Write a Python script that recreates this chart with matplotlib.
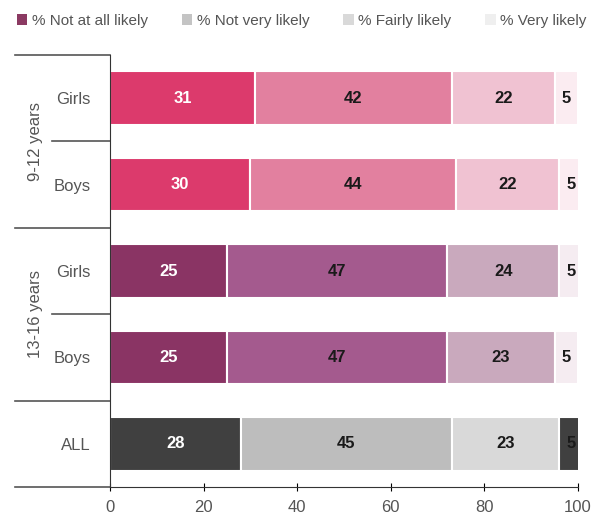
import matplotlib
matplotlib.use("Agg")
import matplotlib.pyplot as plt
from matplotlib.patches import Patch
from matplotlib.transforms import blended_transform_factory

plt.rcParams['font.family'] = ['Liberation Sans', 'DejaVu Sans']

rows = ["Girls", "Boys", "Girls", "Boys", "ALL"]
groups = ["9-12 years", "13-16 years"]
series = ["% Not at all likely", "% Not very likely", "% Fairly likely", "% Very likely"]
not_at_all = [31, 30, 25, 25, 28]
not_very = [42, 44, 47, 47, 45]
fairly = [22, 22, 24, 23, 23]
very = [5, 5, 5, 5, 5]

row_colors = [
    ['#dc3a6c', '#e2809f', '#f0c2d2', '#fbecf1'],
    ['#dc3a6c', '#e2809f', '#f0c2d2', '#fbecf1'],
    ['#8a3464', '#a45a8e', '#c9a9bd', '#f5ecf1'],
    ['#8a3464', '#a45a8e', '#c9a9bd', '#f5ecf1'],
    ['#404040', '#bdbdbd', '#d9d9d9', '#404040'],
]
legend_colors = ['#8b3a62', '#c4c4c4', '#d9d9d9', '#efefef']

fig = plt.figure(figsize=(5.98, 5.22), dpi=100)
ax = fig.add_axes([0.184, 0.067, 0.7826, 0.8276])

data = [not_at_all, not_very, fairly, very]
y = list(range(len(rows)))
left = [0] * len(rows)
for si, vals in enumerate(data):
    cols = [row_colors[r][si] for r in range(len(rows))]
    ax.barh(y, vals, left=left, height=0.62, color=cols, edgecolor='white', linewidth=1.5)
    for r, v in enumerate(vals):
        tc = 'white' if si == 0 else '#1a1a1a'
        ax.text(left[r] + v / 2, r, str(v), ha='center', va='center', fontsize=12,
                fontweight='bold', color=tc)
    left = [l + v for l, v in zip(left, vals)]

ax.set_xlim(0, 100)
ax.set_ylim(4.5, -0.5)
ax.set_xticks([0, 20, 40, 60, 80, 100])
ax.tick_params(axis='x', direction='inout', length=6, labelsize=12, labelcolor='#555555', pad=6)
ax.set_yticks(y)
ax.set_yticklabels(rows, fontsize=12, color='#555555')
ax.tick_params(axis='y', length=0, pad=14)
for s in ['top', 'right']:
    ax.spines[s].set_visible(False)
ax.spines['left'].set_color('#333333')
ax.spines['bottom'].set_color('#333333')

trans = blended_transform_factory(ax.transAxes, ax.transData)
for yy, x0 in [(-0.5, -0.203), (0.5, -0.124), (1.5, -0.203), (2.5, -0.124), (3.5, -0.203), (4.5, -0.203)]:
    ax.plot([x0, 0], [yy, yy], color='#555555', lw=1.2, transform=trans, clip_on=False)

for gi, g in enumerate(groups):
    ax.text(-0.16, 0.5 + 2 * gi, g, rotation=90, ha='center', va='center', fontsize=12,
            color='#555555', transform=trans)

handles = [Patch(facecolor=c, edgecolor='none') for c in legend_colors]
fig.legend(handles, series, loc='upper left', bbox_to_anchor=(0.005, 1.0), ncol=4, frameon=False,
           fontsize=11, handlelength=0.7, handleheight=0.7, handletextpad=0.3, columnspacing=2.2,
           labelcolor='#555555')

fig.savefig('out.png', dpi=100)
